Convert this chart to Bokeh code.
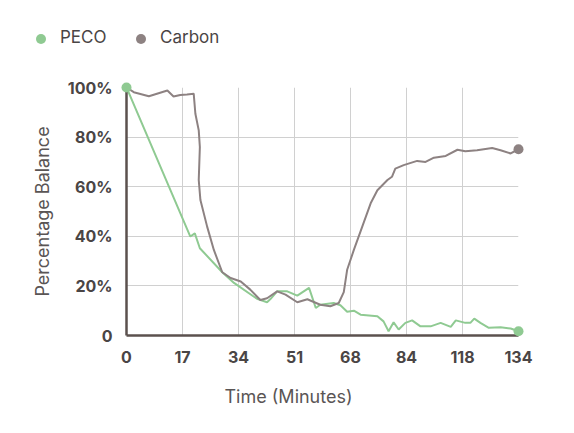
from bokeh.embed import file_html
from bokeh.layouts import column
from bokeh.models import Div, FixedTicker, Range1d, Title
from bokeh.plotting import figure
from bokeh.resources import INLINE

# x positions are in tick-slot units (ticks are evenly spaced, labels are not)
tick_labels = ["0", "17", "34", "51", "68", "84", "118", "134"]
y_ticks = [0, 20, 40, 60, 80, 100]
y_labels = ["0", "20%", "40%", "60%", "80%", "100%"]
series_names = ["PECO", "Carbon"]

peco_x = [0, 1.14, 1.22, 1.31, 1.71, 1.92, 2.33, 2.51, 2.57, 2.69, 2.87,
          3.05, 3.26, 3.38, 3.46, 3.70, 3.82, 3.94, 4.06, 4.18, 4.48, 4.59,
          4.68, 4.77, 4.86, 4.98, 5.10, 5.25, 5.43, 5.61, 5.79, 5.88, 6.05,
          6.14, 6.21, 6.32, 6.47, 6.68, 6.86, 7.0]
peco_y = [100, 39.9, 41.2, 35.2, 25.5, 21.2, 14.8, 13.4, 14.7, 17.8, 17.8,
          16.1, 19.2, 11.1, 12.4, 13.1, 12.2, 9.6, 10.0, 8.4, 7.8, 5.7,
          1.7, 5.3, 2.4, 5.1, 6.1, 3.7, 3.7, 5.1, 3.5, 6.1, 5.1,
          5.1, 6.8, 5.1, 3.1, 3.3, 2.8, 1.7]

carbon_x = [0, 0.13, 0.40, 0.73, 0.84, 0.96, 1.08, 1.20, 1.23, 1.29, 1.31,
            1.29, 1.32, 1.44, 1.56, 1.71, 1.86, 2.04, 2.21, 2.39, 2.51, 2.69,
            2.84, 3.05, 3.23, 3.46, 3.64, 3.79, 3.88, 3.94, 4.06, 4.21, 4.36,
            4.48, 4.66, 4.74, 4.80, 4.95, 5.19, 5.34, 5.49, 5.70, 5.91, 6.05,
            6.26, 6.53, 6.68, 6.86, 7.0]
carbon_y = [100, 98.1, 96.5, 98.8, 96.4, 97.0, 97.2, 97.5, 89.4, 82.7, 76.0,
            62.7, 54.6, 43.9, 34.5, 25.5, 23.2, 21.8, 18.5, 14.3, 15.0, 17.8,
            16.5, 13.4, 14.6, 12.4, 11.8, 13.1, 17.5, 26.5, 34.5, 43.9, 53.3,
            58.6, 62.7, 64.0, 67.3, 68.7, 70.4, 70.0, 71.7, 72.4, 74.9, 74.3,
            74.7, 75.6, 74.7, 73.4, 75.1]

GREEN = "#8fca92"
GRAY = "#8d8282"
TEXT = "#4a4545"
LABEL = "#5a5555"
FONT = "Inter"


def legend_html():
    parts = []
    for i, (name, colour) in enumerate(zip(series_names, [GREEN, GRAY])):
        left = 36 + i * 100
        parts.append(
            f'<span style="position:absolute;left:{left}px;top:34px;'
            f'width:10px;height:10px;border-radius:50%;'
            f'background:{colour}"></span>'
            f'<span style="position:absolute;left:{left + 24}px;top:27px;'
            f'line-height:20px;white-space:nowrap">{name}</span>')
    return ('<div style="position:relative;width:558px;height:55px;'
            f'font-family:{FONT};font-size:17px;color:{TEXT}">'
            + "".join(parts) + '</div>')


top = Div(text=legend_html(), width=558, height=55, margin=0)

p = figure(width=558, height=370, output_backend="svg", toolbar_location=None,
           x_range=Range1d(0, 7), y_range=Range1d(0, 100),
           min_border_left=126, min_border_right=40,
           min_border_top=32, min_border_bottom=89)
p.outline_line_color = None

p.xaxis.ticker = FixedTicker(ticks=list(range(len(tick_labels))))
p.xaxis.major_label_overrides = {i: t for i, t in enumerate(tick_labels)}
p.yaxis.ticker = FixedTicker(ticks=y_ticks)
p.yaxis.major_label_overrides = dict(zip(y_ticks, y_labels))

for ax in (p.xaxis, p.yaxis):
    ax.axis_line_color = "#5b514e"
    ax.axis_line_width = 2.5
    ax.major_tick_line_color = None
    ax.minor_tick_line_color = None
    ax.major_label_text_font = FONT
    ax.major_label_text_font_style = "bold"
    ax.major_label_text_font_size = "16px"
    ax.major_label_text_color = TEXT
p.xaxis.major_label_standoff = 9
p.yaxis.major_label_standoff = 8

p.yaxis.axis_label = "Percentage Balance"
p.yaxis.axis_label_text_font = FONT
p.yaxis.axis_label_text_font_style = "normal"
p.yaxis.axis_label_text_font_size = "18px"
p.yaxis.axis_label_text_color = LABEL
p.yaxis.axis_label_standoff = 12

p.grid.grid_line_color = "#d0d0d0"
p.grid.grid_line_width = 1
p.xgrid.ticker = FixedTicker(ticks=list(range(len(tick_labels))))
p.ygrid.ticker = FixedTicker(ticks=y_ticks)

p.line(peco_x, peco_y, line_color=GREEN, line_width=2)
p.line(carbon_x, carbon_y, line_color=GRAY, line_width=2)

p.scatter([peco_x[0], peco_x[-1]], [peco_y[0], peco_y[-1]],
          size=10, fill_color=GREEN, line_color=None, level="overlay")
p.scatter([carbon_x[-1]], [carbon_y[-1]], size=10,
          fill_color=GRAY, line_color=None, level="overlay")

p.add_layout(Title(text="Time (Minutes)", align="left", offset=98,
                   standoff=37, text_font=FONT, text_font_size="18px",
                   text_font_style="normal", text_color=LABEL), "below")

open("out.html", "w").write(file_html(column(top, p), INLINE))
